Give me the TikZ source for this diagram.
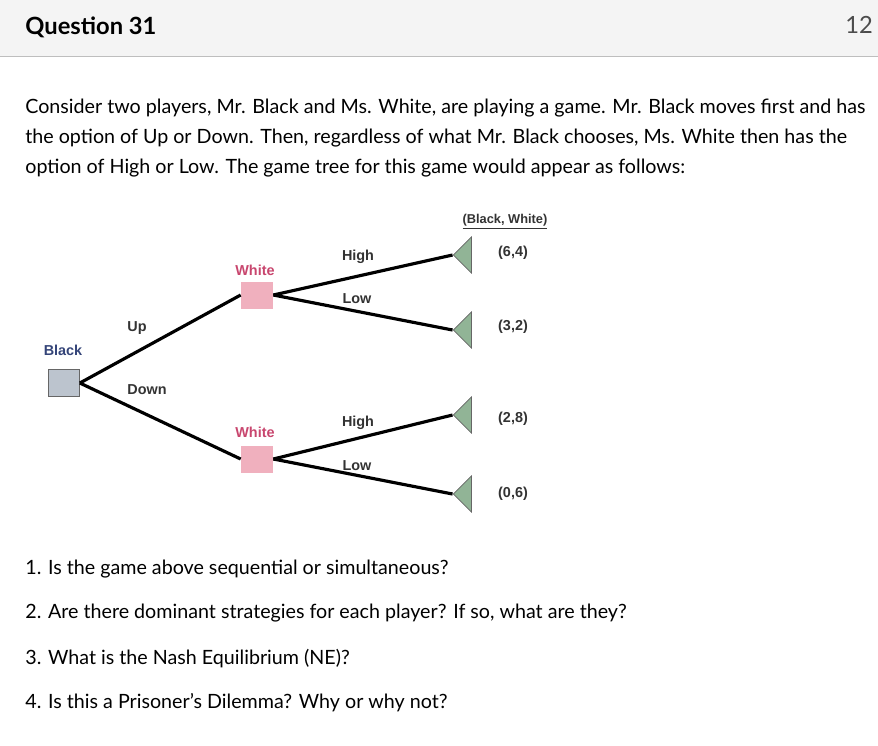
\documentclass[tikz,border=0pt]{standalone}
\usepackage{fontspec}
\setmainfont{Lato}
\newfontfamily\treefont{Liberation Sans}
\usetikzlibrary{shapes.geometric}
\definecolor{head_gray}   {RGB}{244,244,244}
\definecolor{rule_gray}   {RGB}{190,190,190}
\definecolor{black_blue}  {RGB}{52,68,120}
\definecolor{white_pink}  {RGB}{200,70,110}
\definecolor{node_gray}   {RGB}{188,196,206}
\definecolor{node_pink}   {RGB}{240,176,190}
\definecolor{leaf_green}  {RGB}{145,180,150}
\newcommand{\qline}[1]{\fontsize{11.2}{13}\selectfont #1}
\begin{document}
\begin{tikzpicture}[x=0.02cm, y=-0.02cm,
		blockK/.style   = {draw = black!60,
			rectangle,
			fill           = node_gray,
			minimum width  = 0.62cm,
			minimum height = 0.54cm},
		blockP/.style   = {rectangle,
			fill           = node_pink,
			minimum width  = 0.64cm,
			minimum height = 0.54cm},
		leaf/.style     = {draw = black!60,
			isosceles triangle,
			isosceles triangle stretches,
			shape border rotate = 180,
			fill           = leaf_green,
			inner sep      = 0pt,
			minimum width  = 0.72cm,
			minimum height = 0.36cm},
		lbl/.style      = {font = \treefont\bfseries\fontsize{8.2}{10}\selectfont, text = black!80},
		branch/.style   = {line width = 1.8pt}]
		
		\useasboundingbox (0,0) rectangle (878,745);
		\fill[head_gray] (0,0) rectangle (878,56);
		\draw[rule_gray] (0,56) -- (878,56);
		\node[anchor=west, inner sep=0pt, font=\bfseries\fontsize{13.5}{16}\selectfont] (title) at (25,27) {Question 31};
		\node[anchor=west, inner sep=0pt, text=black!70, font=\fontsize{13.5}{16}\selectfont] (pts) at (845,27) {12 p};
		
		\node[anchor=north west, align=left, inner sep=0pt, font=\fontsize{11.2}{17}\selectfont] (intro) at (25,99)
		{Consider two players, Mr. Black and Ms. White, are playing a game. Mr. Black moves first and has\\
			the option of Up or Down. Then, regardless of what Mr. Black chooses, Ms. White then has the\\
			option of High or Low. The game tree for this game would appear as follows:};
		
		% tree
		\node[blockK] (Black) at (64,383) {};
		\node[blockP] (W1) at (257,295) {};
		\node[blockP] (W2) at (257,459) {};
		\node[leaf] (L1) at (464,255) {};
		\node[leaf] (L2) at (464,330) {};
		\node[leaf] (L3) at (464,415) {};
		\node[leaf] (L4) at (464,494) {};
		
		\draw[branch] (Black.east) -- (W1.west);
		\draw[branch] (Black.east) -- (W2.west);
		\draw[branch] (W1.east) -- (L1.apex);
		\draw[branch] (W1.east) -- (L2.apex);
		\draw[branch] (W2.east) -- (L3.apex);
		\draw[branch] (W2.east) -- (L4.apex);
		
		\node[lbl, text=black_blue] (tBlack) at (63,350) {Black};
		\node[lbl, text=white_pink] (tW1) at (255,270) {White};
		\node[lbl, text=white_pink] (tW2) at (255,432) {White};
		\node[lbl] (tUp) at (137,328) {Up};
		\node[lbl] (tDown) at (147,390) {Down};
		\node[lbl] (tH1) at (358,257) {High};
		\node[lbl] (tL1) at (357,299) {Low};
		\node[lbl] (tH2) at (358,423) {High};
		\node[lbl] (tL2) at (357,466) {Low};
		\node[lbl, font=\treefont\bfseries\fontsize{7.3}{9}\selectfont] (head) at (505,222) {\underline{(Black, White)}};
		\node[lbl] (p1) at (513,253) {(6,4)};
		\node[lbl] (p2) at (513,327) {(3,2)};
		\node[lbl] (p3) at (513,419) {(2,8)};
		\node[lbl] (p4) at (513,494) {(0,6)};
		
		% questions
		\node[anchor=west, inner sep=0pt] (q1) at (25,569) {\qline{1. Is the game above sequential or simultaneous?}};
		\node[anchor=west, inner sep=0pt] (q2) at (25,613) {\qline{2. Are there dominant strategies for each player? If so, what are they?}};
		\node[anchor=west, inner sep=0pt] (q3) at (25,659) {\qline{3. What is the Nash Equilibrium (NE)?}};
		\node[anchor=west, inner sep=0pt] (q4) at (25,703) {\qline{4. Is this a Prisoner’s Dilemma? Why or why not?}};
		
	\end{tikzpicture}
\end{document}
